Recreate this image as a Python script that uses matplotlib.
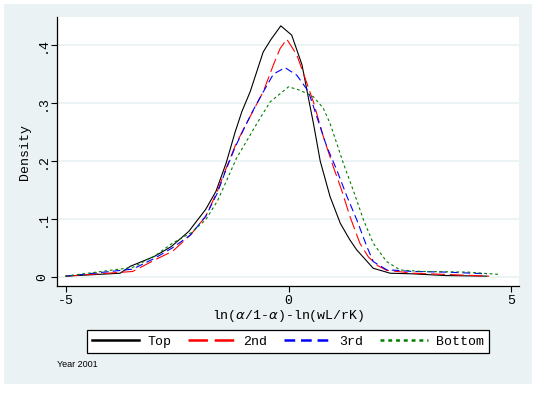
import matplotlib
matplotlib.use("Agg")
import matplotlib.pyplot as plt
from matplotlib.lines import Line2D
from matplotlib.patches import Rectangle

plt.rcParams['lines.scale_dashes'] = False

# values (kernel density, year 2001)
x_top = [-5.0, -3.78, -3.55, -3.01, -2.63, -2.24, -1.86, -1.63, -1.40, -1.2, -1.05, -0.86, -0.57, -0.40, -0.175,
         0.07, 0.30, 0.48, 0.56, 0.71, 0.93, 1.16, 1.37, 1.53, 1.90, 2.28, 2.76, 3.53, 4.45]
y_top = [0.002, 0.007, 0.019, 0.036, 0.053, 0.079, 0.117, 0.148, 0.197, 0.250, 0.285, 0.320, 0.388, 0.409, 0.433,
         0.417, 0.366, 0.295, 0.264, 0.200, 0.139, 0.093, 0.065, 0.047, 0.0155, 0.007, 0.006, 0.003, 0.002]

x_2nd = [-5.0, -3.5, -3.0, -2.6, -2.2, -1.86, -1.6, -1.4, -1.2, -1.0, -0.8, -0.566, -0.34, -0.19, -0.04, 0.184,
         0.37, 0.557, 0.78, 1.005, 1.19, 1.38, 1.60, 1.79, 2.0, 2.2, 2.8, 3.5, 4.5]
y_2nd = [0.002, 0.010, 0.030, 0.045, 0.073, 0.105, 0.148, 0.188, 0.226, 0.257, 0.286, 0.320, 0.366, 0.394, 0.410,
         0.383, 0.343, 0.302, 0.242, 0.190, 0.150, 0.104, 0.0585, 0.035, 0.020, 0.012, 0.007, 0.005, 0.002]

x_3rd = [-5.0, -3.5, -3.0, -2.6, -2.2, -1.86, -1.6, -1.4, -1.2, -1.0, -0.8, -0.6, -0.34, -0.08, 0.184, 0.445,
         0.67, 0.857, 1.08, 1.31, 1.53, 1.755, 1.90, 2.2, 2.8, 3.5, 4.45]
y_3rd = [0.002, 0.014, 0.033, 0.051, 0.073, 0.105, 0.145, 0.186, 0.224, 0.256, 0.287, 0.315, 0.350, 0.361, 0.348,
         0.320, 0.268, 0.225, 0.185, 0.139, 0.099, 0.053, 0.027, 0.013, 0.010, 0.009, 0.006]

x_bot = [-5.0, -3.5, -3.0, -2.6, -2.2, -1.86, -1.6, -1.4, -1.17, -0.9, -0.71, -0.415, 0.0, 0.258, 0.557,
         0.78, 0.93, 1.005, 1.23, 1.45, 1.68, 1.90, 2.20, 2.50, 3.0, 4.0, 4.72]
y_bot = [0.002, 0.017, 0.037, 0.059, 0.076, 0.099, 0.131, 0.165, 0.205, 0.240, 0.265, 0.302, 0.328, 0.322, 0.311,
         0.291, 0.265, 0.248, 0.196, 0.150, 0.099, 0.0585, 0.027, 0.0126, 0.010, 0.009, 0.005]

labels = ["Top", "2nd", "3rd", "Bottom"]
yticks = [0, 0.1, 0.2, 0.3, 0.4]
ytick_labels = ["0", ".1", ".2", ".3", ".4"]
xticks = [-5, 0, 5]
xtick_labels = ["-5", "0", "5"]

bg = "#EAF2F3"
mono = "Liberation Mono"

fig = plt.figure(figsize=(5.38, 3.93), dpi=100, facecolor="white")
fig.patches.append(Rectangle((4 / 538, 1 - 384 / 393), 528 / 538, 380 / 393,
                             transform=fig.transFigure, facecolor=bg, edgecolor="none", zorder=-10))

ax = fig.add_axes([57.3 / 538, 1 - 286 / 393, (519 - 57.3) / 538, (286 - 17.3) / 393])
ax.set_facecolor("white")

styles = [
    dict(color="black", linestyle="-"),
    dict(color="red", linestyle=(0, (10, 3.5))),
    dict(color="blue", linestyle=(0, (5.5, 3))),
    dict(color="green", linestyle=(0, (2, 2))),
]
series = [(x_top, y_top), (x_2nd, y_2nd), (x_3rd, y_3rd), (x_bot, y_bot)]
for (xs, ys), st in zip(series, styles):
    ax.plot(xs, ys, lw=0.8, **st)

ax.set_xlim(-5.19, 5.17)
ax.set_ylim(-0.015, 0.4477)
ax.set_yticks(yticks)
ax.set_yticklabels(ytick_labels, rotation=90, va="center", fontfamily=mono, fontsize=9.5)
ax.set_xticks(xticks)
ax.set_xticklabels(xtick_labels, fontfamily=mono, fontsize=9.5)
ax.tick_params(direction="out", length=4.5, width=0.8, pad=2)
ax.yaxis.grid(True, color=bg, lw=1.3)
ax.set_axisbelow(True)
for s in ["top", "right"]:
    ax.spines[s].set_visible(False)
ax.spines["left"].set_linewidth(0.9)
ax.spines["bottom"].set_linewidth(0.9)

ax.set_ylabel("Density", fontfamily=mono, fontsize=9.5, labelpad=4)
ax.set_xlabel(r"ln($\alpha$/1-$\alpha$)-ln(wL/rK)", fontfamily=mono, fontsize=9.5, labelpad=1)

handles = []
for st in styles:
    ls = st["linestyle"]
    if ls != "-":
        ls = (0, tuple(v * 1.4 for v in ls[1]))
    handles.append(Line2D([], [], color=st["color"], linestyle=ls, lw=1.8))
leg = fig.legend(handles, labels, ncol=4, mode="expand", loc="center",
                 bbox_to_anchor=(86.7 / 538, 1 - 354.3 / 393, (489 - 86.7) / 538, 25 / 393),
                 prop={"family": mono, "size": 9.5}, handlelength=3.6, handletextpad=0.6,
                 fancybox=False, edgecolor="black", framealpha=1, borderaxespad=0)
leg.get_frame().set_linewidth(0.9)

fig.text(57.3 / 538, 1 - 364.5 / 393, "Year 2001", fontsize=6.5, fontfamily="Liberation Sans", va="center")

fig.savefig("out.png", dpi=100)
